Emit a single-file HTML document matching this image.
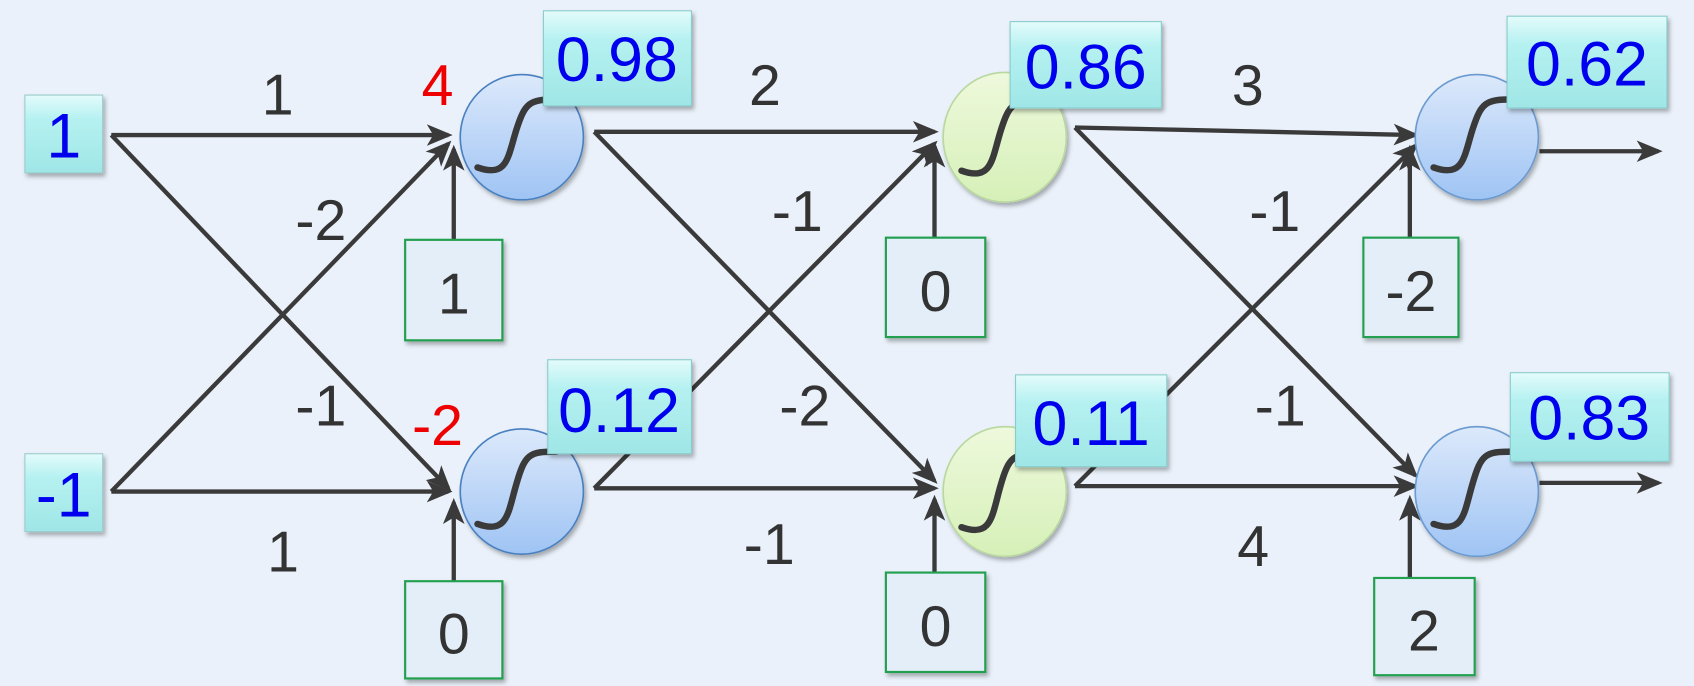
<!DOCTYPE html>
<html><head><meta charset="utf-8"><style>
html,body{margin:0;padding:0;background:#eaf1fa;}
svg{display:block;}
text{font-family:"Liberation Sans",Arial,sans-serif;}
</style></head><body>
<svg width="1694" height="686" viewBox="0 0 1568 635" xmlns="http://www.w3.org/2000/svg">
<defs>
<marker id="a" markerWidth="6" markerHeight="6" refX="5" refY="3" orient="auto" markerUnits="strokeWidth">
<path d="M0,0.5 L6,3 L0,5.5 L1.5,3 z" fill="#3a3a3a"/></marker>
<linearGradient id="cy" x1="0" y1="0" x2="0" y2="1"><stop offset="0" stop-color="#e4fbfb"/><stop offset="0.3" stop-color="#b6f1f1"/><stop offset="1" stop-color="#9fe6e6"/></linearGradient>
<linearGradient id="bl" x1="0" y1="0" x2="0" y2="1"><stop offset="0" stop-color="#dce9fb"/><stop offset="1" stop-color="#9fc4f4"/></linearGradient>
<linearGradient id="gr" x1="0" y1="0" x2="0" y2="1"><stop offset="0" stop-color="#eef9dc"/><stop offset="1" stop-color="#d6f0b8"/></linearGradient>
<filter id="sh" x="-20%" y="-20%" width="140%" height="140%"><feDropShadow dx="2" dy="3" stdDeviation="2" flood-color="#000" flood-opacity="0.3"/></filter>
</defs>
<rect width="1568" height="635" fill="#eaf1fa"/>
<g stroke="#3a3a3a" stroke-width="4" fill="none" marker-end="url(#a)">
<line x1="103" y1="125" x2="415" y2="125"/>
<line x1="103" y1="125" x2="415" y2="452"/>
<line x1="103" y1="455" x2="415" y2="455"/>
<line x1="103" y1="455" x2="415" y2="133"/>
<line x1="420" y1="222" x2="420" y2="138"/>
<line x1="420" y1="538" x2="420" y2="465"/>
<line x1="550" y1="122" x2="865" y2="122"/>
<line x1="550" y1="122" x2="865" y2="445"/>
<line x1="550" y1="452" x2="865" y2="452"/>
<line x1="550" y1="452" x2="865" y2="133"/>
<line x1="865" y1="220" x2="865" y2="135"/>
<line x1="865" y1="530" x2="865" y2="462"/>
<line x1="995" y1="118" x2="1310" y2="125"/>
<line x1="995" y1="118" x2="1310" y2="440"/>
<line x1="995" y1="450" x2="1310" y2="450"/>
<line x1="995" y1="450" x2="1310" y2="135"/>
<line x1="1305" y1="220" x2="1305" y2="138"/>
<line x1="1305" y1="535" x2="1305" y2="462"/>
<line x1="1425" y1="140" x2="1535" y2="140"/>
<line x1="1425" y1="447" x2="1535" y2="447"/>
</g>
<g filter="url(#sh)">
<rect x="23" y="88" width="72" height="72" fill="url(#cy)" stroke="#9cc" stroke-width="1"/>
<rect x="23" y="420" width="72" height="72" fill="url(#cy)" stroke="#9cc" stroke-width="1"/>
<ellipse cx="483" cy="127" rx="57" ry="58" fill="url(#bl)" stroke="#4a80c0" stroke-width="1.5"/>
<ellipse cx="483" cy="455" rx="57" ry="58" fill="url(#bl)" stroke="#4a80c0" stroke-width="1.5"/>
<ellipse cx="930" cy="127" rx="57" ry="60" fill="url(#gr)" stroke="#b8d8a0" stroke-width="1.5"/>
<ellipse cx="930" cy="455" rx="57" ry="60" fill="url(#gr)" stroke="#b8d8a0" stroke-width="1.5"/>
<ellipse cx="1367" cy="127" rx="57" ry="58" fill="url(#bl)" stroke="#6a9ad0" stroke-width="1.5"/>
<ellipse cx="1367" cy="455" rx="57" ry="60" fill="url(#bl)" stroke="#6a9ad0" stroke-width="1.5"/>
</g>
<g stroke="#3a3a3a" stroke-width="6" fill="none" stroke-linecap="round">
<path d="M442,155 C470,165 470,145 478,120 C486,95 490,92 515,92"/>
<path d="M442,485 C470,495 470,475 478,448 C486,420 490,418 515,418"/>
<path d="M890,158 C918,168 918,148 926,122 C934,96 938,93 963,93"/>
<path d="M890,488 C918,498 918,478 926,450 C934,422 938,420 963,420"/>
<path d="M1327,155 C1355,165 1355,145 1363,120 C1371,95 1375,92 1400,92"/>
<path d="M1327,485 C1355,495 1355,475 1363,448 C1371,420 1375,418 1400,418"/>
</g>
<g filter="url(#sh)" fill="url(#cy)" stroke="#8cc" stroke-width="1">
<rect x="503" y="10" width="137" height="88"/>
<rect x="935" y="20" width="140" height="80"/>
<rect x="1395" y="15" width="148" height="85"/>
<rect x="507" y="333" width="133" height="87"/>
<rect x="940" y="347" width="140" height="85"/>
<rect x="1398" y="345" width="147" height="82"/>
</g>
<g filter="url(#sh)" fill="#e4eef8" stroke="#22a050" stroke-width="2">
<rect x="375" y="222" width="90" height="93"/>
<rect x="375" y="538" width="90" height="90"/>
<rect x="820" y="220" width="92" height="92"/>
<rect x="820" y="530" width="92" height="92"/>
<rect x="1262" y="220" width="88" height="92"/>
<rect x="1272" y="535" width="93" height="90"/>
</g>
<g fill="#0000ee" font-size="58" text-anchor="middle">
<text x="59" y="146">1</text>
<text x="59" y="478">-1</text>
<text x="571" y="75">0.98</text>
<text x="1005" y="82">0.86</text>
<text x="1469" y="79">0.62</text>
<text x="573" y="400">0.12</text>
<text x="1010" y="412">0.11</text>
<text x="1471" y="407">0.83</text>
</g>
<g fill="#333" font-size="53" text-anchor="middle">
<text x="420" y="290">1</text>
<text x="420" y="605">0</text>
<text x="866" y="288">0</text>
<text x="866" y="598">0</text>
<text x="1306" y="288">-2</text>
<text x="1318" y="602">2</text>
<text x="257" y="106">1</text>
<text x="708" y="97">2</text>
<text x="1155" y="97">3</text>
<text x="297" y="222">-2</text>
<text x="738" y="214">-1</text>
<text x="1180" y="214">-1</text>
<text x="297" y="394">-1</text>
<text x="745" y="394">-2</text>
<text x="1185" y="394">-1</text>
<text x="262" y="529">1</text>
<text x="712" y="522">-1</text>
<text x="1160" y="524">4</text>
</g>
<g fill="#ee0000" font-size="53" text-anchor="middle">
<text x="405" y="97">4</text>
<text x="405" y="412">-2</text>
</g>
</svg>
</body></html>
